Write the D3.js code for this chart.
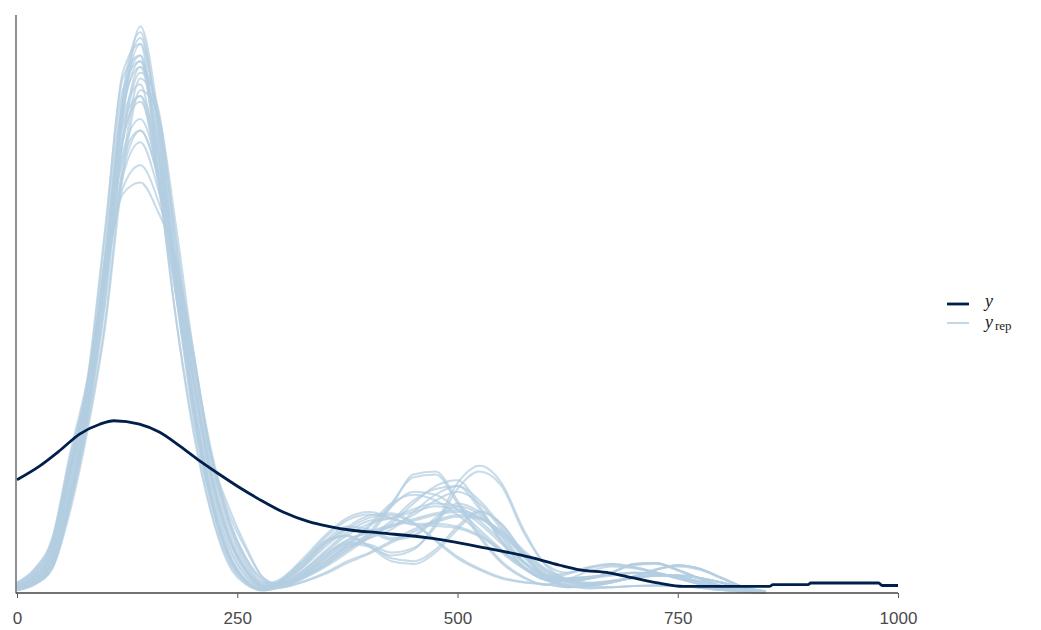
<!DOCTYPE html>
<html>
<head>
<meta charset="utf-8">
<script src="https://cdn.jsdelivr.net/npm/d3@7"></script>
<style>
  html, body { margin: 0; padding: 0; background: #ffffff; }
  svg { display: block; }
</style>
</head>
<body>
<svg id="chart" width="1041" height="630"></svg>
<script>
// Posterior predictive check: kernel density of observed y against replicated draws y_rep.
// Densities are expressed in units of 1e-4.

// Evaluation grid shared by the replicated densities
const gridX = [0, 20, 40, 60, 80, 100, 120, 140, 160, 180, 200, 220, 240, 260, 280,
  300, 325, 350, 375, 400, 425, 450, 475, 500, 525, 550, 575, 600,
  625, 650, 675, 700, 725, 750, 775, 800, 825, 850];

// Replicated densities (one row per draw)
const yrepDensity = [
  [0.6,1.8,5.0,16,31,55,86,97,80,55,32,16,6,1.8,0.5, 1.0,2.5,4.5,7,10,15,20.5,21,16,10,5.5,2.8,1.4, 2.5,2.8,3.2,3.5,3.3,2.8,2.0,1.1,0.4,0.1],
  [0.8,2.4,6.5,20,36,62,90,95,73,48,28,14,5,1.5,0.4, 1.5,3.5,6.5,9,10.5,11.5,12.5,13.5,14,13,10,6.5,3.5, 2.0,1.6,2.0,2.6,3.0,3.0,2.6,1.8,0.8,0.2],
  [1.0,2.8,7.0,20,34,57,82,88,72,52,33,18,8,2.8,0.8, 1.2,3.0,6.0,8.5,8,6.5,7.5,12,19,22,19,11,5, 3.5,4.5,5.0,4.5,3.6,2.6,1.6,0.8,0.3,0.1],
  [0.5,1.6,4.5,15,29,47,74,89,82,62,40,23,12,5,1.6, 2.5,6,10,13,14,13,12,12,11.5,10,7.5,4.5,2.5, 1.0,1.2,1.8,2.8,4.0,4.8,4.2,2.6,1.0,0.3],
  [1.4,3.6,8.5,22,35,54,72,78,70,57,40,24,13,6,2.2, 1.0,2.0,3.5,5.5,7,9,11,12.5,13.5,13,10.5,7,4, 2.2,1.2,1.0,1.2,1.3,1.2,0.9,0.5,0.2,0.05],
  [1.8,4.2,9.5,24,37,55,69,71,66,58,42,24,15,8,2.6, 1.4,3.2,5.5,8,9.5,11,14,17,18.5,16,11.5,6.5,3.2, 2.0,2.5,3.5,5.0,5.2,4.0,2.5,1.2,0.4,0.1],
  [0.7,2.0,5.5,17,32,57,85,93,78,54,33,17,7,2.2,0.6, 1.3,3.0,5.5,8.5,11.5,15,17.5,17,14.5,11,7.5,4.5,2.3, 2.5,2.8,3.2,3.5,3.3,2.8,2.0,1.1,0.4,0.1],
  [0.5,1.5,4.3,15,30,50,78,90,84,61,38,21,10,4,1.2, 2.0,5,9,11.5,11,9.5,10,13,15.5,14,10,5.5,2.6, 1.2,1.5,2.0,2.6,3.0,3.0,2.6,1.8,0.8,0.2],
  [0.9,2.5,6.2,19,34,58,84,91,76,53,31,16,6.5,2,0.5, 2.2,5.5,9,10,8,5.5,5,7,11,14,12,7,3, 3.5,4.5,5.0,4.5,3.6,2.6,1.6,0.8,0.3,0.1],
  [1.1,3.0,7.5,21,35,56,79,85,74,55,36,20,9.5,3.5,1.0, 2.0,4.5,8,11,13,13.5,12,9,6,4,2.5,1.8,1.5, 1.0,1.2,1.8,2.8,4.0,4.8,4.2,2.6,1.0,0.3],
  [0.6,1.9,5.2,16,31,53,83,95,81,57,34,17,7,2,0.5, 1.6,3.8,7,10,12,13,14.5,15.5,15,12.5,9,5.5,3, 2.0,2.5,3.5,5.0,5.2,4.0,2.5,1.2,0.4,0.1],
  [1.2,3.2,8.0,21,35,55,76,82,73,56,37,21,10,4,1.3, 1.1,2.6,4.8,7.5,9.5,12,15.5,18.5,19.5,15,9,4.5,2.2, 1.2,0.8,1.0,1.2,1.3,1.2,0.9,0.5,0.2,0.05],
  [0.7,2.0,5.4,17,32,56,85,96,81,56,33,17,6.5,2.0,0.6, 1.5,3.4,6,8.5,10,11.5,13.5,16,17.5,15.5,11,6.2,3.0, 1.8,1.4,1.9,2.9,4.1,4.6,4.0,2.5,1.0,0.3],
  [0.9,2.6,6.8,21,37,63,89,93,72,48,29,14.5,5.5,1.7,0.5, 1.2,2.8,5.2,8.2,11.8,15.5,17,16,13.5,10.5,7,4.2,2.4, 3.3,4.3,4.8,4.4,3.5,2.5,1.5,0.7,0.3,0.1],
  [1.1,3.0,7.3,21,35,58,81,86,71,52,34,19,8.5,3.0,0.9, 1.7,4.0,7.3,10.5,12.5,13,14,15,14.5,12,8.5,5.2,2.8, 1.5,1.6,2.1,2.7,3.1,3.1,2.6,1.7,0.7,0.2],
  [0.5,1.5,4.2,14,28,46,72,87,83,64,42,24,12.5,5.5,1.8, 1.7,3.8,6.8,9.2,10.6,11.8,12.8,13.8,14.3,13.2,10.3,6.8,3.8, 2.3,2.7,3.6,4.8,5.0,3.9,2.4,1.1,0.4,0.1],
  [1.5,3.8,8.8,23,36,55,73,80,72,58,41,25,13,6,2.0, 1.2,2.8,5.0,7.8,9.8,12.5,16,18,18.5,14.5,8.8,4.6,2.4, 2.3,2.6,3.0,3.4,3.2,2.7,1.9,1.0,0.4,0.1],
  [0.7,2.1,5.7,18,33,59,87,92,76,52,31,16,6.5,2.0,0.6, 0.9,1.9,3.3,5.2,6.8,8.7,10.6,12.2,13.2,12.8,10.8,7.4,4.2, 2.4,1.7,2.0,2.6,3.0,3.0,2.6,1.8,0.8,0.2],
  [0.8,2.3,6.0,18,33,57,83,92,78,55,32,17,7,2.2,0.6, 2.3,5.6,9.6,12.6,13.6,12.8,11.8,11.6,11.2,9.8,7.2,4.3,2.3, 1.4,0.9,1.0,1.2,1.3,1.2,0.9,0.5,0.2,0.05],
  [1.0,2.9,7.2,20,34,55,78,86,76,57,37,21,10,3.8,1.1, 1.8,4.6,8.6,11,10.6,9.2,9.8,12.6,15,13.6,9.6,5.2,2.5, 2.0,2.5,3.5,5.0,5.2,4.0,2.5,1.2,0.4,0.1],
  [0.5,1.6,4.6,15.5,31,51,79,91,83,60,37,20,9.5,3.8,1.1, 1.1,2.7,4.8,7.4,10.5,15.5,20,20.5,15.5,9.6,5.2,2.6,1.4, 2.4,3.8,4.6,4.3,3.5,2.5,1.6,0.8,0.3,0.1],
  [0.6,1.8,5.0,15.5,30,52,82,98,83,58,34,17,6.5,1.9,0.5, 2.0,5.2,8.7,9.8,8.2,6,5.5,7.5,11.5,14.2,11.8,6.8,3.1, 2.5,2.8,3.2,3.5,3.3,2.8,2.0,1.1,0.4,0.1],
  [1.3,3.4,8.3,22,36,56,75,80,72,56,38,22,11,4.5,1.4, 2.1,4.8,8.4,11.4,13.4,13.8,12.2,9.2,6.3,4.2,2.7,1.9,1.5, 1.0,1.2,1.8,2.8,4.0,4.8,4.2,2.6,1.0,0.3],
  [1.7,4.0,9.2,23,36,54,70,74,68,57,41,24,14,7.5,2.5, 1.3,3.2,6.3,8.8,8.4,7,7.8,11.5,18,21,18.5,10.5,4.8, 2.4,1.8,2.1,2.6,3.0,3.0,2.6,1.8,0.8,0.2]
];

// Observed density
const obsX = [0, 26, 49, 71, 94, 110, 139, 162, 185, 207, 230, 253, 275, 302, 332, 355, 378, 412, 469,
  525, 582, 616, 639, 672, 700, 729, 756, 800, 854, 858, 898, 901, 978, 982, 1000];
const obsDensity = [19.6, 22.0, 24.7, 27.5, 29.2, 29.8, 29.2, 27.8, 25.4, 22.9, 20.5, 18.2, 16.2, 14.0, 12.3,
  11.5, 10.9, 10.4, 9.5, 8.0, 6.2, 4.8, 4.0, 3.5, 2.6, 1.7, 1.15, 1.15, 1.15, 1.44, 1.44, 1.73, 1.73, 1.3, 1.3];

const xTicks = [0, 250, 500, 750, 1000];
const yDomain = [0, 100];

const colorY = "#011f4b";
const colorYrep = "#b3cde0";

const svg = d3.select("#chart");

const x = d3.scaleLinear().domain([0, 1000]).range([17, 898]);
const y = d3.scaleLinear().domain(yDomain).range([593, 15]);

// Replicated densities
const repLine = d3.line()
  .x((d, i) => x(gridX[i]))
  .y(d => y(d))
  .curve(d3.curveMonotoneX);

svg.append("g")
  .selectAll("path")
  .data(yrepDensity)
  .join("path")
  .attr("d", repLine)
  .attr("fill", "none")
  .attr("stroke", colorYrep)
  .attr("stroke-opacity", 0.72)
  .attr("stroke-width", 2);

// Observed density
const obsLine = d3.line()
  .x((d, i) => x(obsX[i]))
  .y(d => y(d))
  .curve(d3.curveMonotoneX);

svg.append("path")
  .datum(obsDensity)
  .attr("d", obsLine)
  .attr("fill", "none")
  .attr("stroke", colorY)
  .attr("stroke-width", 2.8)
  .attr("stroke-linejoin", "round");

// Vertical axis line (no ticks)
svg.append("line")
  .attr("x1", 16).attr("x2", 16)
  .attr("y1", y(yDomain[1])).attr("y2", y(0) + 0.5)
  .attr("stroke", "#555")
  .attr("stroke-width", 1.3);

// Horizontal axis
const xAxis = d3.axisBottom(x)
  .tickValues(xTicks)
  .tickFormat(d3.format("d"))
  .tickSize(5)
  .tickPadding(14)
  .tickSizeOuter(0);

const gx = svg.append("g")
  .attr("transform", `translate(0,${y(0)})`)
  .call(xAxis);

gx.select(".domain")
  .attr("d", `M16,0H${x(1000)}`)
  .attr("stroke", "#444")
  .attr("stroke-width", 1.4);
gx.selectAll(".tick line").attr("stroke", "#555").attr("stroke-width", 1);
gx.selectAll(".tick text")
  .attr("fill", "#4a4a4a")
  .style("font-family", "'Liberation Sans', Arial, sans-serif")
  .style("font-size", "17px");

// Legend
const legend = svg.append("g").attr("transform", "translate(947,0)");
const legendItems = [
  { key: "y", color: colorY, width: 2.8, opacity: 1, ly: 304 },
  { key: "yrep", color: colorYrep, width: 1.8, opacity: 0.9, ly: 323 }
];
legend.selectAll("line")
  .data(legendItems)
  .join("line")
  .attr("x1", 0).attr("x2", 22)
  .attr("y1", d => d.ly).attr("y2", d => d.ly)
  .attr("stroke", d => d.color)
  .attr("stroke-opacity", d => d.opacity)
  .attr("stroke-width", d => d.width);

const serif = "'Liberation Serif', 'Times New Roman', serif";
legend.append("text")
  .attr("x", 38).attr("y", 307)
  .style("font-family", serif)
  .style("font-style", "italic")
  .style("font-size", "18px")
  .attr("fill", "#222")
  .text("y");

const repLabel = legend.append("text")
  .attr("x", 38).attr("y", 328)
  .style("font-family", serif)
  .attr("fill", "#222");
repLabel.append("tspan")
  .style("font-style", "italic")
  .style("font-size", "18px")
  .text("y");
repLabel.append("tspan")
  .attr("dx", 2).attr("dy", 2)
  .style("font-size", "13px")
  .text("rep");
</script>
</body>
</html>
